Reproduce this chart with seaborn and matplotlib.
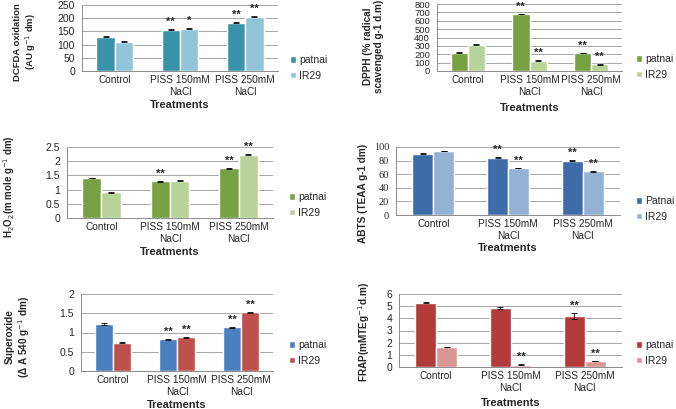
import matplotlib
matplotlib.use("Agg")
import matplotlib.pyplot as plt
from matplotlib.ticker import FuncFormatter
import seaborn as sns
import pandas as pd
import numpy as np

sns.set_style("white")
plt.rcParams['font.family'] = ['Liberation Sans', 'DejaVu Sans']

categories = ["Control", "PISS 150mM\nNaCl", "PISS 250mM\nNaCl"]

dcfda_patnai = [129, 157, 183]
dcfda_ir29 = [110, 160, 205]
dcfda_err_p = [2, 2, 2]
dcfda_err_i = [2, 2, 2]
dcfda_star_p = ["", "**", "**"]
dcfda_star_i = ["", "*", "**"]

dpph_patnai = [220, 680, 215]
dpph_ir29 = [315, 125, 80]
dpph_err_p = [5, 5, 5]
dpph_err_i = [4, 5, 5]
dpph_star_p = ["", "**", "**"]
dpph_star_i = ["", "**", "**"]

h2o2_patnai = [1.41, 1.29, 1.75]
h2o2_ir29 = [0.90, 1.32, 2.23]
h2o2_err_p = [0.015, 0.015, 0.015]
h2o2_err_i = [0.01, 0.01, 0.015]
h2o2_star_p = ["", "**", "**"]
h2o2_star_i = ["", "", "**"]

abts_patnai = [90, 84.5, 80]
abts_ir29 = [94, 69, 64]
abts_err_p = [0.5, 0.5, 0.4]
abts_err_i = [0.5, 0.5, 0.5]
abts_star_p = ["", "**", "**"]
abts_star_i = ["", "**", "**"]

sup_patnai = [1.22, 0.82, 1.13]
sup_ir29 = [0.74, 0.88, 1.52]
sup_err_p = [0.02, 0.01, 0.01]
sup_err_i = [0.01, 0.015, 0.01]
sup_star_p = ["", "**", "**"]
sup_star_i = ["", "**", "**"]

frap_patnai = [5.3, 4.85, 4.2]
frap_ir29 = [1.65, 0.2, 0.5]
frap_err_p = [0.03, 0.1, 0.25]
frap_err_i = [0.03, 0.03, 0.03]
frap_star_p = ["", "", "**"]
frap_star_i = ["", "**", "**"]

W, H = 676, 409
fig = plt.figure(figsize=(W / 100, H / 100), dpi=100)


def panel(box, p, i, ep, ei, sp, si, names, colors, ymax, ystep, ylabel,
          ylab_x, ylab_y, ylab_size, treat_y, leg_x, leg_y, tick_serif=False,
          ytick_size=7.5):
    l, t, r, b = box
    ax = fig.add_axes([l / W, 1 - b / H, (r - l) / W, (b - t) / H])
    df = pd.DataFrame({
        "Treatment": categories * 2,
        "Value": list(p) + list(i),
        "Variety": [names[0]] * 3 + [names[1]] * 3,
    })
    sns.barplot(data=df, x="Treatment", y="Value", hue="Variety",
                palette=colors, width=0.56, errorbar=None, saturation=1,
                ax=ax, legend=True)
    ax.set_xlim(-0.5, 2.5)
    ax.set_ylim(0, ymax)
    ax.set_yticks(np.arange(0, ymax + ystep / 2, ystep))
    ax.yaxis.set_major_formatter(FuncFormatter(lambda v, pos: f"{v:g}"))
    ax.yaxis.grid(True, color="#a6a6a6", lw=0.7)
    ax.set_axisbelow(True)
    for s in ["top", "right"]:
        ax.spines[s].set_visible(False)
    for s in ["left", "bottom"]:
        ax.spines[s].set_color("#8c8c8c")
        ax.spines[s].set_linewidth(0.7)
    ax.tick_params(axis="y", length=3, width=0.6, color="#8c8c8c",
                   labelsize=ytick_size, pad=2)
    ax.tick_params(axis="x", length=0, labelsize=7.3, pad=3)
    ax.set_xticks([0, 1, 2])
    ax.set_xticklabels(categories)
    ax.set_xticks([-0.5, 0.5, 1.5, 2.5], minor=True)
    ax.tick_params(axis="x", which="minor", length=3, width=0.6, color="#8c8c8c")
    if tick_serif:
        for lab in ax.get_yticklabels():
            lab.set_family(["Liberation Serif", "DejaVu Serif"])
    ax.set_xlabel("")
    ax.set_ylabel(ylabel, fontsize=ylab_size, fontweight="bold", linespacing=1.15)
    ax.yaxis.set_label_coords(ylab_x / W, 1 - ylab_y / H, transform=fig.transFigure)
    fig.text(((l + r) / 2) / W, 1 - treat_y / H, "Treatments", ha="center",
             va="center", fontsize=8, fontweight="bold")
    for cont, errs, stars in zip(ax.containers, [ep, ei], [sp, si]):
        xs = [pt.get_x() + pt.get_width() / 2 for pt in cont.patches]
        ys = [pt.get_height() for pt in cont.patches]
        ax.errorbar(xs, ys, yerr=errs, fmt="none", ecolor="black",
                    elinewidth=0.6, capsize=2, capthick=0.6)
        for x, y, e, s in zip(xs, ys, errs, stars):
            if s:
                ax.annotate(s, (x, y + e), xytext=(0, 1.5), textcoords="offset points",
                            ha="center", va="bottom", fontsize=8,
                            fontweight="bold")
    ax.legend(loc="center left", bbox_to_anchor=(leg_x / W, 1 - leg_y / H),
              bbox_transform=fig.transFigure, frameon=False, fontsize=7.5,
              handlelength=0.6, handleheight=0.6, handletextpad=0.3,
              labelspacing=0.5, borderaxespad=0, borderpad=0)
    return ax


panel((82, 5, 278, 71), dcfda_patnai, dcfda_ir29, dcfda_err_p, dcfda_err_i,
      dcfda_star_p, dcfda_star_i, ["patnai", "IR29"], ["#3a93ab", "#92c5da"],
      250, 50, "DCFDA oxidation\n(AU g$^{-1}$ dm)", 38, 42, 6.8, 105, 290, 68)

panel((437, 4, 622, 71), dpph_patnai, dpph_ir29, dpph_err_p, dpph_err_i,
      dpph_star_p, dpph_star_i, ["patnai", "IR29"], ["#77a043", "#b8d39a"],
      800, 100, "DPPH (% radical\nscavenged g-1 d.m)", 384, 46, 7.2, 108, 636, 67,
      ytick_size=6.8)

panel((67, 147, 273, 218), h2o2_patnai, h2o2_ir29, h2o2_err_p, h2o2_err_i,
      h2o2_star_p, h2o2_star_i, ["patnai", "IR29"], ["#77a043", "#b8d39a"],
      2.5, 0.5, "H$_2$O$_2$(m mole g$^{-1}$ dm)", 17, 187, 7.0, 252, 289, 205)

panel((396, 147, 620, 215), abts_patnai, abts_ir29, abts_err_p, abts_err_i,
      abts_star_p, abts_star_i, ["Patnai", "IR29"], ["#3d6ca8", "#94b2d6"],
      100, 20, "ABTS (TEAA g-1 dm)", 368, 193, 7.2, 248, 636, 209, tick_serif=True)

panel((81, 294, 273, 371), sup_patnai, sup_ir29, sup_err_p, sup_err_i,
      sup_star_p, sup_star_i, ["patnai", "IR29"], ["#4a7fc0", "#c0504d"],
      2, 0.5, "Superoxide\n(Δ A 540 g$^{-1}$ dm)", 32, 337, 7.2, 405, 289, 353)

panel((399, 294, 622, 367), frap_patnai, frap_ir29, frap_err_p, frap_err_i,
      frap_star_p, frap_star_i, ["patnai", "IR29"], ["#b23b39", "#d99694"],
      6, 1, "FRAP(mMTEg$^{-1}$d.m)", 372, 332, 7.2, 403, 636, 353)

fig.savefig("out.png", dpi=100, facecolor="white")
